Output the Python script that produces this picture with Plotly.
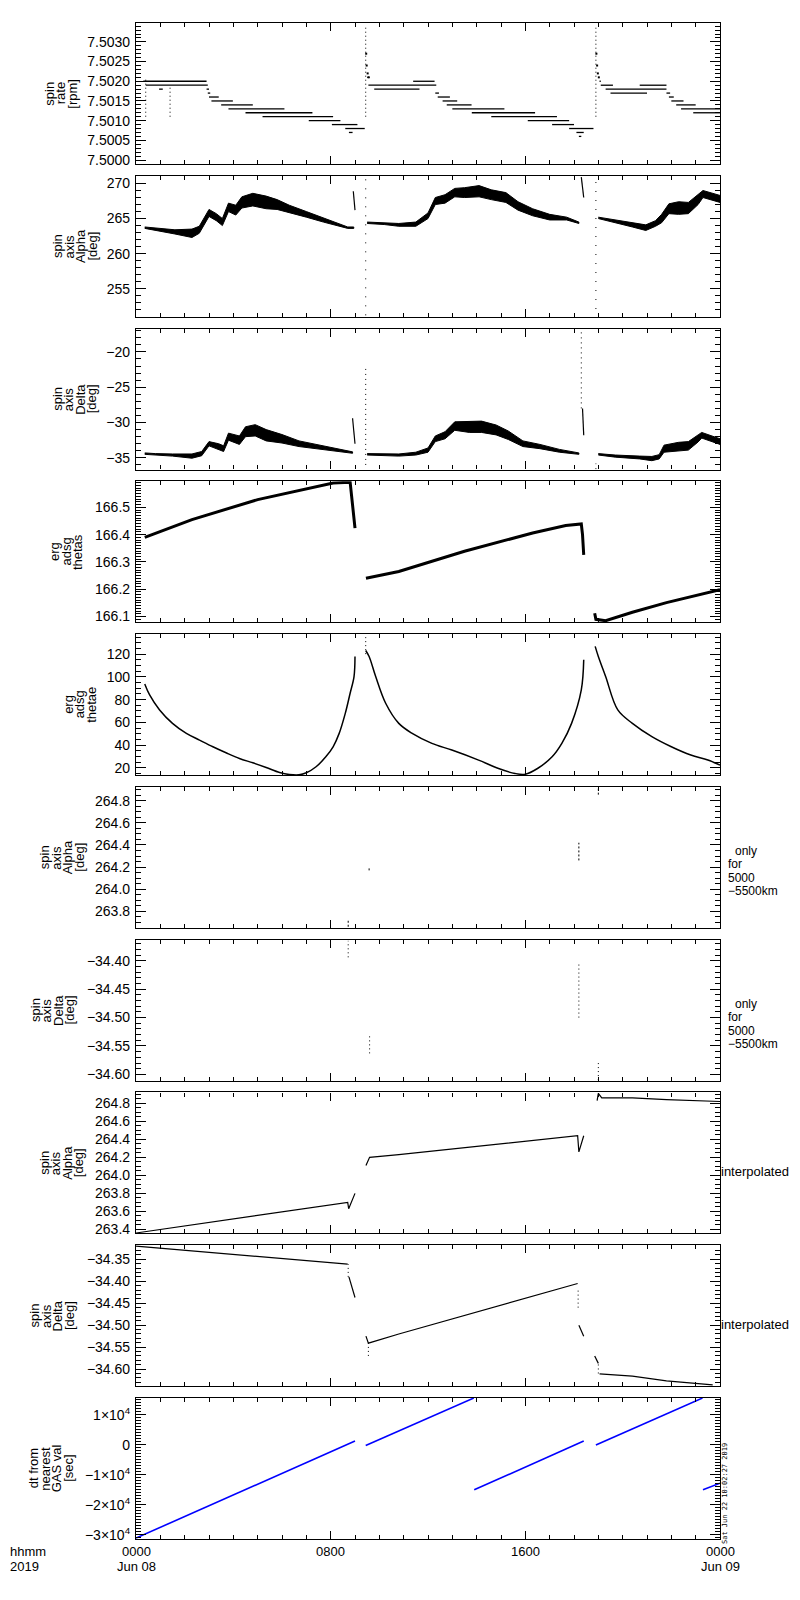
import plotly.graph_objects as go
from plotly.subplots import make_subplots

# %% data (time in hours from 0000 Jun 08 2019)
# spin rate [rpm] : horizontal step segments
rate_t0 = [0.30, 0.40, 0.95, 2.90, 2.95, 3.00, 3.10, 3.50, 3.80, 4.50, 5.20, 7.10, 8.05, 8.60, 8.75,
           9.50, 9.55, 9.79, 11.39, 12.30, 12.40, 12.60, 12.77, 13.00, 13.80, 14.60, 16.10, 17.10, 17.80, 18.10, 18.20,
           19.05, 19.10, 19.30, 19.50, 20.70, 21.80, 21.90, 22.00, 22.20, 22.40, 22.90]
rate_t1 = [2.90, 2.95, 1.10, 3.00, 3.05, 3.40, 3.98, 4.80, 6.10, 7.25, 8.10, 8.40, 9.10, 9.40, 8.90,
           9.60, 12.34, 11.65, 12.27, 12.45, 12.90, 13.20, 13.79, 15.14, 16.40, 17.30, 17.80, 18.00, 18.80, 18.40, 18.30,
           19.10, 19.60, 21.80, 21.00, 21.80, 21.95, 22.10, 22.50, 23.00, 24.00, 24.00]
rate_v = [7.5020, 7.5019, 7.5018, 7.5018, 7.5017, 7.5016, 7.5015, 7.5014, 7.5013, 7.5012, 7.5011, 7.5010, 7.5009, 7.5008, 7.5007,
          7.5021, 7.5019, 7.5018, 7.5020, 7.5017, 7.5016, 7.5015, 7.5014, 7.5013, 7.5012, 7.5011, 7.5010, 7.5009, 7.5008, 7.5007, 7.5006,
          7.5020, 7.5019, 7.5018, 7.5017, 7.5019, 7.5017, 7.5016, 7.5015, 7.5014, 7.5013, 7.5012]
rate_col_t = [0.40, 1.40, 9.44, 18.90]
rate_col_lo = [7.5011, 7.5011, 7.5011, 7.5011]
rate_col_hi = [7.5021, 7.5019, 7.5034, 7.5034]
rate_decay_t = [9.46, 9.48, 9.52, 9.56, 18.92, 18.95, 18.98, 19.02]
rate_decay_v = [7.5027, 7.5024, 7.5022, 7.5021, 7.5027, 7.5024, 7.5022, 7.5021]

# spin axis Alpha [deg] : centre and half width of the scattered band
alpha1_t = [0.36, 0.8, 1.6, 2.3, 2.6, 3.0, 3.3, 3.55, 3.8, 4.1, 4.35, 4.8, 5.35, 5.8, 6.3, 7.0, 7.7, 8.35, 8.7, 8.95]
alpha1_v = [263.7, 263.5, 263.1, 262.9, 263.4, 265.8, 265.2, 264.5, 266.6, 266.2, 267.3, 267.7, 267.3, 267.0, 266.4, 265.6, 264.8, 264.1, 263.7, 263.7]
alpha1_w = [0.1, 0.15, 0.3, 0.6, 0.5, 0.5, 0.5, 0.5, 0.6, 0.7, 0.8, 0.9, 0.9, 0.7, 0.5, 0.4, 0.3, 0.2, 0.1, 0.1]
alpha2_t = [9.5, 10.2, 10.8, 11.5, 12.0, 12.3, 12.7, 13.1, 13.5, 14.1, 14.6, 15.2, 15.7, 16.3, 17.0, 17.7, 18.2]
alpha2_v = [264.4, 264.3, 264.1, 264.2, 265.4, 267.5, 267.8, 268.7, 268.7, 268.9, 268.4, 268.0, 266.8, 265.9, 265.2, 265.0, 264.4]
alpha2_w = [0.1, 0.15, 0.2, 0.3, 0.4, 0.5, 0.6, 0.6, 0.7, 0.8, 0.7, 0.7, 0.6, 0.5, 0.4, 0.2, 0.1]
alpha3_t = [19.0, 19.7, 20.4, 20.95, 21.35, 21.6, 21.9, 22.3, 22.7, 23.1, 23.3, 24.0]
alpha3_v = [265.1, 264.6, 264.1, 263.7, 264.3, 265.0, 266.4, 266.5, 266.5, 267.7, 268.5, 267.8]
alpha3_w = [0.1, 0.2, 0.3, 0.4, 0.4, 0.6, 0.7, 0.9, 0.8, 0.7, 0.5, 0.5]
alpha_spk_t = [8.93, 9.0, None, 18.3, 18.4]
alpha_spk_v = [268.9, 266.2, None, 270.9, 268.0]
alpha_col_t = [9.44, 18.90]
alpha_col_lo = [251.2, 252.1]
alpha_col_hi = [270.8, 271.0]

# spin axis Delta [deg]
delta1_t = [0.36, 0.8, 1.5, 2.3, 2.7, 3.0, 3.4, 3.6, 3.8, 4.25, 4.5, 4.9, 5.35, 6.0, 6.7, 7.4, 8.1, 8.9]
delta1_v = [-34.4, -34.5, -34.6, -34.75, -34.4, -33.0, -33.4, -33.7, -32.0, -32.5, -31.3, -31.1, -31.8, -32.3, -33.0, -33.4, -33.8, -34.25]
delta1_w = [0.1, 0.1, 0.15, 0.3, 0.3, 0.3, 0.4, 0.4, 0.5, 0.6, 0.7, 0.8, 0.8, 0.6, 0.4, 0.3, 0.2, 0.1]
delta2_t = [9.5, 10.8, 11.5, 12.0, 12.3, 12.7, 13.1, 13.7, 14.2, 14.8, 15.3, 15.9, 16.6, 17.4, 18.2]
delta2_v = [-34.5, -34.6, -34.4, -33.9, -32.3, -31.8, -30.5, -30.6, -30.6, -31.05, -31.8, -33.0, -33.4, -34.0, -34.4]
delta2_w = [0.1, 0.15, 0.2, 0.3, 0.4, 0.5, 0.6, 0.8, 0.8, 0.7, 0.6, 0.4, 0.3, 0.2, 0.1]
delta3_t = [19.0, 19.7, 20.7, 21.2, 21.5, 21.7, 22.3, 22.7, 23.1, 23.25, 24.0]
delta3_v = [-34.5, -34.75, -34.95, -35.1, -34.85, -33.7, -33.4, -33.3, -32.25, -31.8, -32.7]
delta3_w = [0.1, 0.15, 0.2, 0.3, 0.3, 0.5, 0.6, 0.6, 0.5, 0.4, 0.4]
delta_spk_t = [8.9, 9.0, None, 18.35, 18.4]
delta_spk_v = [-29.4, -33.0, None, -28.0, -31.8]
delta_col_t = [9.44, 18.30, 18.90]
delta_col_lo = [-36.0, -28.0, -36.6]
delta_col_hi = [-22.0, -16.7, -35.8]

# erg adsg thetas
thetas_t = [0.36, 2.3, 5.0, 8.1, 8.8, 8.9, 9.0, None, 9.45, 10.8, 13.5, 16.3, 17.66, 18.3, 18.35, 18.4,
            None, 18.85, 18.9, 19.3, 20.4, 21.8, 24.0]
thetas_v = [166.390, 166.455, 166.528, 166.589, 166.592, 166.50, 166.424, None, 166.240, 166.265, 166.339, 166.406, 166.433, 166.439, 166.40, 166.326,
            None, 166.112, 166.090, 166.085, 166.116, 166.151, 166.198]

# erg adsg thetae
thetae_t = [0.36, 0.56, 0.97, 1.5, 2.07, 2.61, 3.16, 3.7, 4.25, 4.8, 5.35, 5.9, 6.3, 6.7, 7.0, 7.4, 7.8, 8.1, 8.35, 8.6, 8.8, 8.96, 9.0,
            None, 9.44, 9.58, 9.85, 10.26, 10.8, 11.35, 12.16, 12.98, 14.08, 14.9, 15.58, 16.0, 16.5, 17.1, 17.5, 17.9, 18.3, 18.4,
            None, 18.87, 19.0, 19.3, 19.8, 20.4, 21.2, 22.0, 22.8, 23.5, 24.0]
thetae_v = [93.8, 84.1, 70.9, 59.1, 50.3, 44.4, 38.5, 33.2, 28.2, 24.4, 20.3, 15.9, 14.1, 13.8, 15.6, 20.9, 29.7, 38.5, 50.3, 67.9, 85.6, 100.3, 117.9,
            None, 123.2, 117.9, 100.3, 76.8, 59.1, 50.3, 41.5, 35.6, 26.8, 19.4, 15.0, 14.4, 19.4, 29.7, 41.5, 59.1, 88.5, 115.0,
            None, 126.8, 117.9, 100.3, 70.9, 59.1, 47.4, 38.5, 31.2, 26.8, 22.4]
thetae_col_t = [9.44]
thetae_col_lo = [120.0]
thetae_col_hi = [137.0]

# spin axis Alpha / Delta only for 5000-5500 km
aonly_t = [8.72, 9.58, 18.2, 19.0]
aonly_lo = [263.66, 264.17, 264.26, 264.855]
aonly_hi = [263.72, 264.20, 264.42, 264.915]
donly_t = [8.72, 9.6, 18.2, 19.0]
donly_lo = [-34.394, -34.563, -34.50, -34.61]
donly_hi = [-34.365, -34.531, -34.406, -34.58]

# interpolated Alpha / Delta
ai_t = [0.0, 8.70, 8.74, 9.0, None, 9.45, 9.60, 10.8, 18.15, 18.2, 18.4, None, 18.95, 19.0, 19.14, 20.4, 21.8, 23.1, 24.0]
ai_v = [263.36, 263.70, 263.63, 263.80, None, 264.11, 264.20, 264.23, 264.44, 264.26, 264.44, None, 264.83, 264.91, 264.86, 264.86, 264.84, 264.83, 264.82]
di_t = [0.0, 8.70, None, 8.75, 9.0, None, 9.45, 9.55, 10.8, 18.15, None, 18.2, 18.4, None, 18.85, 18.95, 19.0,
        None, 19.05, 20.4, 21.8, 23.1, 23.7]
di_v = [-34.32, -34.361, None, -34.39, -34.437, None, -34.525, -34.541, -34.52, -34.405, None, -34.50, -34.525, None, -34.57, -34.58, -34.587,
        None, -34.611, -34.616, -34.627, -34.634, -34.636]
di_col_t = [8.72, 9.55, 18.17, 19.0]
di_col_lo = [-34.39, -34.57, -34.46, -34.61]
di_col_hi = [-34.361, -34.541, -34.42, -34.587]

# dt from nearest GAS val [sec]
dt_t = [0.0, 9.0, None, 9.44, 13.88, None, 13.9, 18.4, None, 18.9, 23.28, None, 23.3, 24.0]
dt_v = [-31100, 1230, None, -220, 15570, None, -15000, 1230, None, -100, 15570, None, -15000, -12800]

hour_ticks = [0, 8, 16, 24]
hour_labels = ['0000', '0800', '1600', '0000']
day_labels = ['Jun 08', '', '', 'Jun 09']
dt_ticks = [-30000, -20000, -10000, 0, 10000]
dt_labels = ['\u22123\u00d710<sup>4</sup>', '\u22122\u00d710<sup>4</sup>', '\u22121\u00d710<sup>4</sup>', '0', '1\u00d710<sup>4</sup>']

# %% helpers
def segs(t0, t1, v):
    x, y = [], []
    for a, b, c in zip(t0, t1, v):
        x += [a, b, None]
        y += [c, c, None]
    return x, y


def cols(t, lo, hi):
    x, y = [], []
    for a, b, c in zip(t, lo, hi):
        x += [a, a, None]
        y += [b, c, None]
    return x, y


def band(t, v, w):
    x = list(t) + list(t[::-1])
    y = [a + b for a, b in zip(v, w)] + [a - b for a, b in zip(v[::-1], w[::-1])]
    return go.Scatter(x=x, y=y, mode='lines', fill='toself', fillcolor='black',
                      line=dict(color='black', width=1), showlegend=False)


def line(x, y, width=1.2, color='black', dash=None, shape='linear'):
    return go.Scatter(x=x, y=y, mode='lines', line=dict(color=color, width=width, dash=dash, shape=shape),
                      showlegend=False, connectgaps=False)


# %% figure
fig = make_subplots(rows=10, cols=1, vertical_spacing=0.0078)

x, y = segs(rate_t0, rate_t1, rate_v)
fig.add_trace(line(x, y, 1.3), row=1, col=1)
x, y = cols(rate_col_t, rate_col_lo, rate_col_hi)
fig.add_trace(line(x, y, 1, dash='1px,3px'), row=1, col=1)
fig.add_trace(go.Scatter(x=rate_decay_t, y=rate_decay_v, mode='markers',
                         marker=dict(color='black', size=2, symbol='square'), showlegend=False), row=1, col=1)

for t, v, w in [(alpha1_t, alpha1_v, alpha1_w), (alpha2_t, alpha2_v, alpha2_w), (alpha3_t, alpha3_v, alpha3_w)]:
    fig.add_trace(band(t, v, w), row=2, col=1)
fig.add_trace(line(alpha_spk_t, alpha_spk_v, 1.2), row=2, col=1)
x, y = cols(alpha_col_t, alpha_col_lo, alpha_col_hi)
fig.add_trace(line(x, y, 1, dash='1px,8px'), row=2, col=1)

for t, v, w in [(delta1_t, delta1_v, delta1_w), (delta2_t, delta2_v, delta2_w), (delta3_t, delta3_v, delta3_w)]:
    fig.add_trace(band(t, v, w), row=3, col=1)
fig.add_trace(line(delta_spk_t, delta_spk_v, 1.2), row=3, col=1)
x, y = cols(delta_col_t, delta_col_lo, delta_col_hi)
fig.add_trace(line(x, y, 1, dash='1px,4px'), row=3, col=1)

fig.add_trace(line(thetas_t, thetas_v, 3), row=4, col=1)

fig.add_trace(line(thetae_t, thetae_v, 1.5, shape='spline'), row=5, col=1)
x, y = cols(thetae_col_t, thetae_col_lo, thetae_col_hi)
fig.add_trace(line(x, y, 1, dash='1px,3px'), row=5, col=1)

x, y = cols(aonly_t, aonly_lo, aonly_hi)
fig.add_trace(line(x, y, 1, dash='2px,2px'), row=6, col=1)
x, y = cols(donly_t, donly_lo, donly_hi)
fig.add_trace(line(x, y, 1, dash='1px,3px'), row=7, col=1)

fig.add_trace(line(ai_t, ai_v, 1.2), row=8, col=1)
fig.add_trace(line(di_t, di_v, 1.2), row=9, col=1)
x, y = cols(di_col_t, di_col_lo, di_col_hi)
fig.add_trace(line(x, y, 1, dash='1px,3px'), row=9, col=1)

fig.add_trace(line(dt_t, dt_v, 1.6, color='rgb(0,0,255)'), row=10, col=1)

# %% axes
y_ranges = [[7.4999, 7.50348], [251.0, 271.1], [-36.65, -16.7], [166.079, 166.595], [13.6, 137.6],
            [263.65, 264.925], [-34.611, -34.363], [263.355, 264.92], [-34.639, -34.318], [-31400, 15570]]
y_dtick = [0.0005, 5, 5, 0.1, 20, 0.2, 0.05, 0.2, 0.05, None]
y_minor = [0.0001, 1, 1, 0.01, 5, 0.05, 0.01, 0.05, 0.01, None]
y_fmt = ['.4f', 'd', 'd', '.1f', 'd', '.1f', '.2f', '.1f', '.2f', None]

tick_font = dict(family='Liberation Sans, Arial, sans-serif', size=14, color='black')
for i in range(1, 11):
    fig.update_xaxes(
        row=i, col=1, range=[0, 24], showgrid=False, zeroline=False,
        showline=True, linecolor='black', linewidth=1.2, mirror='allticks',
        ticks='inside', ticklen=8, tickcolor='black', tickwidth=1,
        tickmode='array', tickvals=hour_ticks, showticklabels=False,
        minor=dict(tickmode='array', tickvals=list(range(25)), ticks='inside',
                   ticklen=4, tickcolor='black', tickwidth=1),
    )
    ycfg = dict(
        range=y_ranges[i - 1], showgrid=False, zeroline=False,
        showline=True, linecolor='black', linewidth=1.2, mirror='allticks',
        ticks='inside', ticklen=10, tickcolor='black', tickwidth=1,
        tickfont=tick_font, ticklabelstandoff=2,
    )
    if i < 10:
        ycfg.update(tickmode='linear', tick0=0, dtick=y_dtick[i - 1], tickformat=y_fmt[i - 1],
                    minor=dict(tickmode='linear', tick0=0, dtick=y_minor[i - 1], ticks='inside',
                               ticklen=5, tickcolor='black', tickwidth=1))
    else:
        ycfg.update(tickmode='array', tickvals=dt_ticks, ticktext=dt_labels,
                    minor=dict(tickmode='array', tickvals=list(range(-31000, 16000, 1000)),
                               ticks='inside', ticklen=5, tickcolor='black', tickwidth=1))
    fig.update_yaxes(row=i, col=1, **ycfg)

# %% annotations
# page body adds an 8px margin, so the figure is 16px smaller than the window
OFF = 8
W_FIG, H_FIG = 800 - 2 * OFF, 1600 - 2 * OFF
L, R, T, B = 128, 72, 15, 53
ann_font = dict(family='Liberation Sans, Arial, sans-serif', size=13, color='black')

titles = [
    ['spin', 'rate', '[rpm]'],
    ['spin', 'axis', 'Alpha', '[deg]'],
    ['spin', 'axis', 'Delta', '[deg]'],
    ['erg', 'adsg', 'thetas'],
    ['erg', 'adsg', 'thetae'],
    ['spin', 'axis', 'Alpha', '[deg]'],
    ['spin', 'axis', 'Delta', '[deg]'],
    ['spin', 'axis', 'Alpha', '[deg]'],
    ['spin', 'axis', 'Delta', '[deg]'],
    ['dt from', 'nearest', 'GAS val', '[sec]'],
]
title_right = [78, 98, 97, 84, 97, 85, 75, 85, 75, 74]   # px in the 800px frame
pitch = 11.5
annotations = []
for i, lines_ in enumerate(titles):
    dom = fig.layout['yaxis' if i == 0 else f'yaxis{i + 1}'].domain
    yc = (dom[0] + dom[1]) / 2
    n = len(lines_)
    for j, txt in enumerate(lines_):
        xc = title_right[i] - pitch * (n - 1 - j) - pitch / 2
        annotations.append(dict(text=txt, xref='paper', yref='paper', x=0, y=yc,
                                xshift=xc - OFF - L, xanchor='center', yanchor='middle',
                                textangle=-90, showarrow=False, font=ann_font))

side_notes = {5: ['only', 'for', '5000', '\u22125500km'], 6: ['only', 'for', '5000', '\u22125500km']}
note_off = [64, 77.5, 91, 104.5]
for i, lines_ in side_notes.items():
    top = fig.layout[f'yaxis{i + 1}'].domain[1]
    for j, txt in enumerate(lines_):
        annotations.append(dict(text=txt, xref='paper', yref='paper', x=1, y=top,
                                xshift=(13 if j == 0 else 6), yshift=-note_off[j],
                                xanchor='left', yanchor='middle', showarrow=False,
                                font=dict(ann_font, size=12)))
for i in (7, 8):
    top = fig.layout[f'yaxis{i + 1}'].domain[1]
    annotations.append(dict(text='interpolated', xref='paper', yref='paper', x=1, y=top,
                            xshift=-1, yshift=-79, xanchor='left', yanchor='middle',
                            showarrow=False, font=ann_font))

annotations.append(dict(text='Sat Jun 22 10:02:27 2019', xref='paper', yref='paper', x=1, y=0,
                        xshift=5, yshift=45, xanchor='center', yanchor='middle', textangle=-90,
                        showarrow=False, font=dict(family='DejaVu Sans Mono, monospace', size=7, color='black')))
for txt, ys in [('hhmm', -12.5), ('2019', -27)]:
    annotations.append(dict(text=txt, xref='paper', yref='paper', x=0, y=0, xshift=8 - OFF - L, yshift=ys,
                            xanchor='left', yanchor='middle', showarrow=False, font=ann_font))
for hx, hl, dl in zip(hour_ticks, hour_labels, day_labels):
    annotations.append(dict(text=hl, xref='x10', yref='paper', x=hx, y=0, yshift=-12.5,
                            xanchor='center', yanchor='middle', showarrow=False, font=ann_font))
    if dl:
        annotations.append(dict(text=dl, xref='x10', yref='paper', x=hx, y=0, yshift=-27,
                                xanchor='center', yanchor='middle', showarrow=False, font=ann_font))

fig.update_layout(
    width=W_FIG, height=H_FIG,
    margin=dict(l=L, r=R, t=T, b=B),
    paper_bgcolor='white', plot_bgcolor='white',
    showlegend=False, annotations=annotations,
)

fig.write_html('out.html')
